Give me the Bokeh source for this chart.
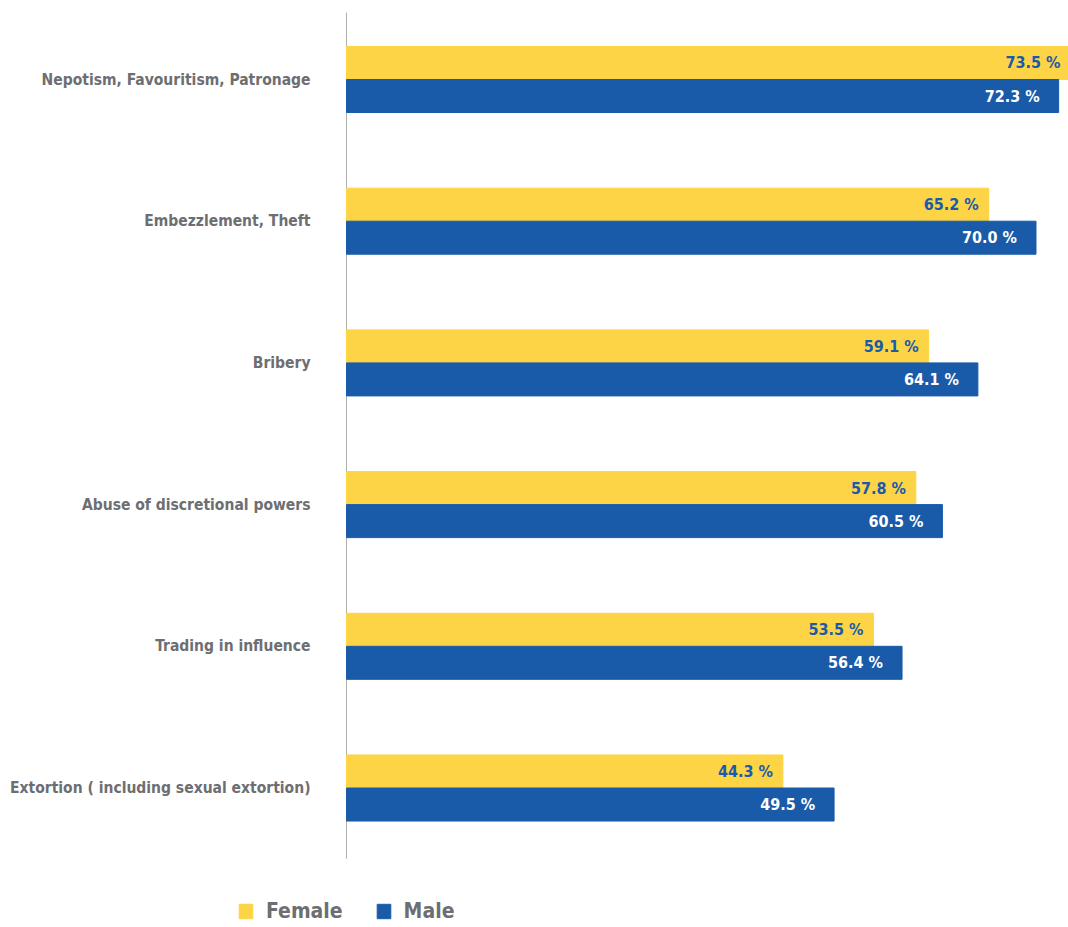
from bokeh.plotting import figure
from bokeh.models import ColumnDataSource, Range1d, Legend, LegendItem
from bokeh.transform import dodge
from bokeh.core.properties import value
from bokeh.embed import file_html
from bokeh.resources import INLINE

categories = ["Nepotism, Favouritism, Patronage", "Embezzlement, Theft", "Bribery",
              "Abuse of discretional powers", "Trading in influence",
              "Extortion ( including sexual extortion)"]
female = [73.5, 65.2, 59.1, 57.8, 53.5, 44.3]
male = [72.3, 70.0, 64.1, 60.5, 56.4, 49.5]
series = ["Female", "Male"]

YELLOW = "#FDD445"
BLUE = "#195BA9"
GRAY = "#6d6e72"
FONT = "DejaVu Sans Condensed, Liberation Sans Narrow, Roboto"

W, H = 1068, 927
n = len(categories)
pos = [n - 1 - i for i in range(n)]

# layout: value axis baseline at 346 px, first category centre ~79 px from top
XMAX = 73.3
XMIN = -XMAX * 346 / (W - 346)
UNIT = 141.7
YTOP = (n - 1) + 79 / UNIT
YBOT = YTOP - H / UNIT

src = ColumnDataSource(dict(
    pos=pos, cat=categories, zero=[0] * n, female=female, male=male,
    flab=[f"{v:.1f} %" for v in female],
    mlab=[f"{v:.1f} %" for v in male],
))

p = figure(width=W, height=H, output_backend="svg", toolbar_location=None,
           x_range=Range1d(XMIN, XMAX), y_range=Range1d(YBOT, YTOP),
           x_axis_type=None, y_axis_type=None,
           min_border_left=0, min_border_right=0, min_border_top=0, min_border_bottom=0)
p.outline_line_color = None
p.xgrid.visible = False
p.ygrid.visible = False

# category axis line
p.segment(x0=[0], y0=[-0.5], x1=[0], y1=[n - 0.5 - 4 / UNIT], line_color="#b0b0b0", line_width=1)

off = 0.1165
h = 0.233
rf = p.hbar(y=dodge("pos", off), right="female", left=0, height=h, color=YELLOW, source=src)
rm = p.hbar(y=dodge("pos", -off), right="male", left=0, height=h, color=BLUE, source=src)

# category labels
p.text(x="zero", y="pos", text="cat", source=src, x_offset=-36,
       text_align="right", text_baseline="middle",
       text_font=value(FONT), text_font_style="bold", text_font_size="15.5px", text_color=GRAY)

# value labels
p.text(x="female", y=dodge("pos", off), text="flab", source=src,
       x_offset=-10, text_align="right", text_baseline="middle",
       text_font=value(FONT), text_font_style="bold", text_font_size="16px", text_color=BLUE)
p.text(x="male", y=dodge("pos", -off), text="mlab", source=src,
       x_offset=-19, text_align="right", text_baseline="middle",
       text_font=value(FONT), text_font_style="bold", text_font_size="16px", text_color="white")

legend = Legend(items=[LegendItem(label=series[0], renderers=[rf]),
                       LegendItem(label=series[1], renderers=[rm])],
                orientation="horizontal", location=(237, 4),
                glyph_width=17, glyph_height=18, label_text_font=FONT,
                label_text_font_style="bold", label_text_font_size="21px",
                label_text_color=GRAY, border_line_color=None,
                background_fill_alpha=0, padding=0, margin=0, spacing=32,
                label_standoff=12)
p.add_layout(legend, "center")

open("out.html", "w").write(file_html(p, INLINE))
